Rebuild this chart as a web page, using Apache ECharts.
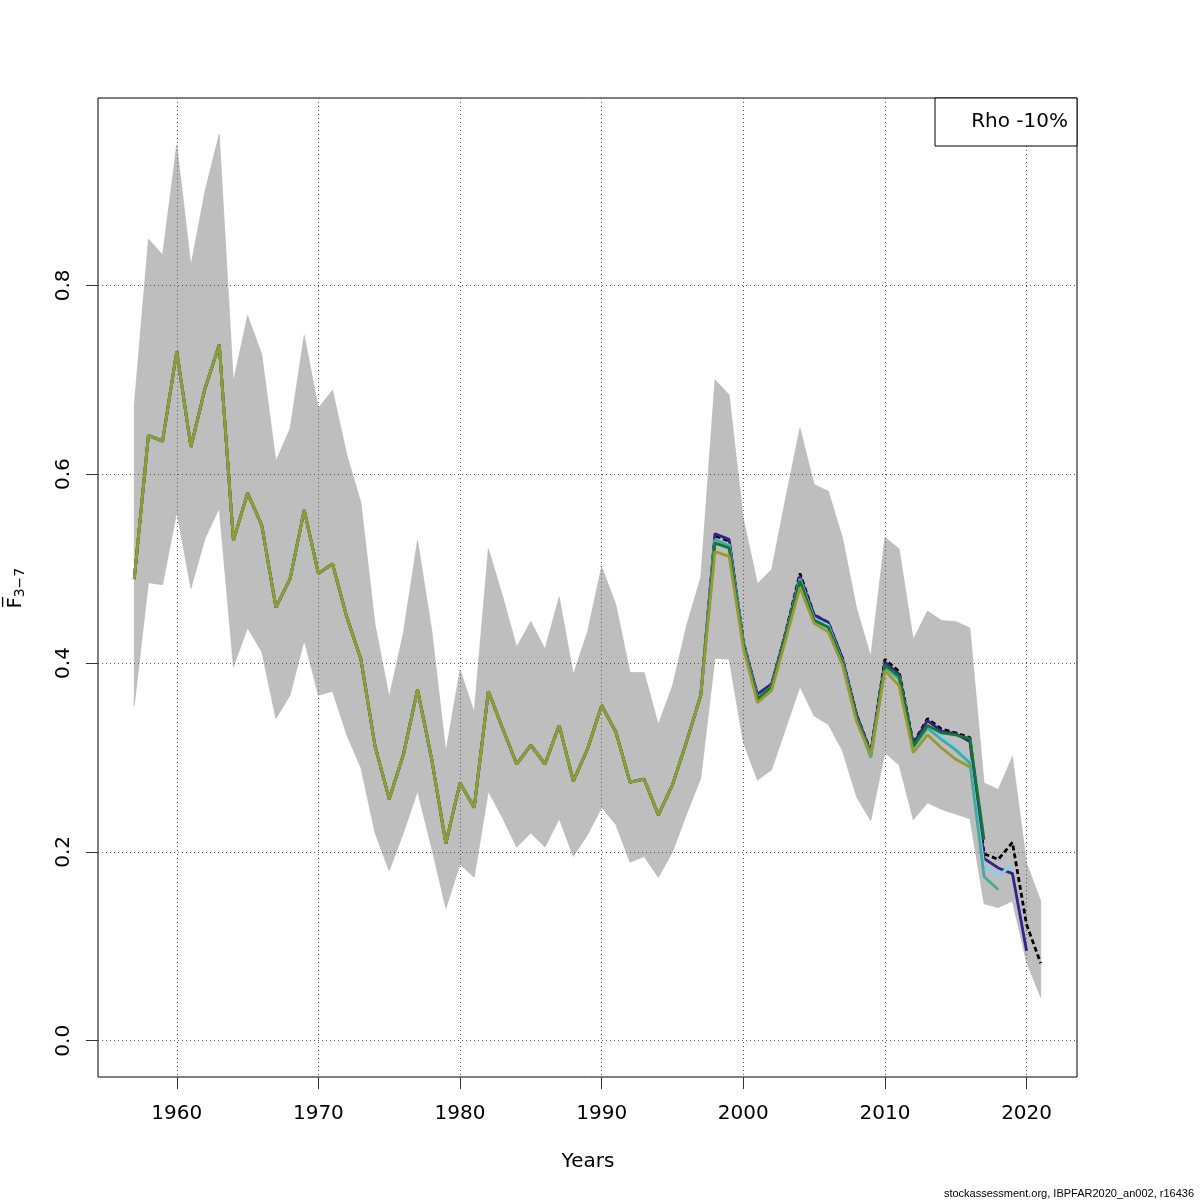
<!DOCTYPE html>
<html><head><meta charset="utf-8">
<script src="https://cdn.jsdelivr.net/npm/echarts@6/dist/echarts.min.js"></script>
<style>html,body{margin:0;padding:0;background:#fff}#c{width:1200px;height:1200px}</style>
</head><body><div id="c"></div><script>
// ---- data ----
const years = [1957,1958,1959,1960,1961,1962,1963,1964,1965,1966,1967,1968,1969,1970,1971,1972,1973,1974,1975,1976,1977,1978,1979,1980,1981,1982,1983,1984,1985,1986,1987,1988,1989,1990,1991,1992,1993,1994,1995,1996,1997,1998,1999,2000,2001,2002,2003,2004,2005,2006,2007,2008,2009,2010,2011,2012,2013,2014,2015,2016,2017,2018,2019,2020,2021];
// shared part of all fits, 1957-1997
const sharedEarly = [0.489,0.641,0.635,0.730,0.629,0.691,0.737,0.530,0.580,0.546,0.459,0.489,0.562,0.495,0.505,0.449,0.404,0.312,0.256,0.303,0.372,0.298,0.209,0.273,0.247,0.370,0.331,0.293,0.313,0.293,0.334,0.275,0.309,0.355,0.327,0.274,0.277,0.239,0.271,0.317,0.366];
// 1998 onwards, per fit
const baseTail   = [0.535,0.529,0.423,0.365,0.377,0.433,0.495,0.451,0.443,0.405,0.345,0.306,0.404,0.391,0.315,0.341,0.330,0.326,0.321,0.198,0.192,0.210,0.123,0.082];
const retro1Tail = [0.537,0.531,0.422,0.367,0.378,0.432,0.492,0.451,0.443,0.405,0.345,0.305,0.401,0.388,0.314,0.339,0.328,0.325,0.317,0.193,0.183,0.177,0.095];
const retro2Tail = [0.530,0.525,0.421,0.363,0.375,0.430,0.489,0.447,0.440,0.402,0.342,0.303,0.397,0.385,0.311,0.333,0.322,0.311,0.296,0.184,0.175,0.186];
const retro3Tail = [0.531,0.524,0.420,0.361,0.374,0.429,0.488,0.446,0.438,0.401,0.341,0.300,0.396,0.383,0.310,0.331,0.319,0.308,0.294,0.174,0.160];
const retro4Tail = [0.527,0.522,0.420,0.362,0.375,0.430,0.487,0.445,0.438,0.401,0.342,0.303,0.398,0.386,0.312,0.334,0.326,0.324,0.320,0.213];
const retro5Tail = [0.518,0.513,0.416,0.358,0.371,0.425,0.480,0.442,0.433,0.398,0.338,0.302,0.392,0.376,0.305,0.324,0.310,0.298,0.290];
const bandUpper = [0.673,0.849,0.832,0.949,0.821,0.900,0.960,0.698,0.768,0.727,0.614,0.648,0.747,0.670,0.689,0.621,0.570,0.441,0.364,0.432,0.530,0.435,0.306,0.393,0.348,0.521,0.471,0.417,0.444,0.415,0.470,0.388,0.433,0.502,0.462,0.390,0.390,0.335,0.376,0.440,0.491,0.700,0.684,0.553,0.484,0.499,0.575,0.649,0.589,0.582,0.533,0.458,0.407,0.533,0.521,0.425,0.455,0.445,0.444,0.437,0.273,0.266,0.301,0.188,0.148];
const bandLower = [0.355,0.485,0.483,0.560,0.479,0.532,0.564,0.396,0.437,0.412,0.341,0.366,0.424,0.366,0.370,0.324,0.289,0.220,0.180,0.220,0.264,0.204,0.140,0.187,0.173,0.264,0.236,0.205,0.220,0.205,0.235,0.195,0.218,0.247,0.229,0.189,0.195,0.173,0.200,0.240,0.278,0.405,0.404,0.316,0.276,0.287,0.331,0.375,0.344,0.335,0.307,0.258,0.233,0.305,0.292,0.234,0.252,0.245,0.240,0.235,0.145,0.141,0.148,0.083,0.046];
const xTicks = [1960,1970,1980,1990,2000,2010,2020];
const yTicks = [0,0.2,0.4,0.6,0.8];
const yTickLabels = ['0.0','0.2','0.4','0.6','0.8'];
const legendText = 'Rho -10%';

// ---- chart ----
const FONT = 'DejaVu Sans';
const chart = echarts.init(document.getElementById('c'));
function fit(tail, color, dashed) {
  const vals = sharedEarly.concat(tail);
  return {
    type: 'line', z: 3, silent: true, symbol: 'none', animation: false,
    data: vals.map((v, i) => [years[i], v]),
    lineStyle: { color: color, width: 2.8, type: dashed ? [5, 3] : 'solid' }
  };
}
const gridLine = { show: true, lineStyle: { color: '#555', width: 1, type: [1, 3] } };
chart.setOption({
  animation: false,
  textStyle: { fontFamily: FONT },
  grid: { left: 98, top: 98, right: 123, bottom: 123, show: true, borderColor: '#000', borderWidth: 1, backgroundColor: 'transparent' },
  xAxis: {
    type: 'value', min: 1954.44, max: 2023.56, z: 2,
    axisLine: { show: false, onZero: false },
    axisTick: { show: true, length: 12, customValues: xTicks, lineStyle: { color: '#333' } },
    axisLabel: { customValues: xTicks, fontSize: 20, color: '#000', margin: 27, fontFamily: FONT,
      formatter: v => String(Math.round(v)) },
    splitLine: gridLine
  },
  yAxis: {
    type: 'value', min: -0.0384, max: 0.9984, z: 2,
    axisLine: { show: false, onZero: false },
    axisTick: { show: true, length: 12, customValues: yTicks, lineStyle: { color: '#333' } },
    axisLabel: { customValues: yTicks, rotate: 90, fontSize: 20, color: '#000', margin: 24, fontFamily: FONT,
      formatter: v => yTickLabels[yTicks.findIndex(t => Math.abs(t - v) < 1e-9)] },
    splitLine: gridLine
  },
  series: [
    {
      type: 'custom', z: 1, silent: true,
      data: years.map((y, i) => [y, bandLower[i], bandUpper[i]]),
      encode: { x: 0, y: [1, 2] },
      renderItem: function (params, api) {
        if (params.dataIndex !== 0) return null;
        const pts = [];
        for (let i = 0; i < years.length; i++) pts.push(api.coord([years[i], bandUpper[i]]));
        for (let i = years.length - 1; i >= 0; i--) pts.push(api.coord([years[i], bandLower[i]]));
        return { type: 'polygon', shape: { points: pts }, style: { fill: '#BEBEBE', stroke: '#B4B4B4', lineWidth: 0.6 } };
      }
    },
    fit(baseTail, '#000000', true),
    fit(retro1Tail, '#332288', false),
    fit(retro2Tail, '#88CCEE', false),
    fit(retro3Tail, '#44AA99', false),
    fit(retro4Tail, '#117733', false),
    fit(retro5Tail, '#999933', false)
  ],
  graphic: [
    { type: 'rect', z: 10, shape: { x: 935, y: 98, width: 142, height: 48 }, style: { fill: '#fff', stroke: '#000', lineWidth: 1 } },
    { type: 'text', z: 11, x: 1068, y: 122, style: { text: legendText, font: '20px "DejaVu Sans"', fill: '#000', align: 'right', verticalAlign: 'middle' } },
    { type: 'text', z: 11, x: 588, y: 1162, style: { text: 'Years', font: '20px "DejaVu Sans"', fill: '#000', align: 'center', verticalAlign: 'middle' } },
    { type: 'text', z: 11, x: 16, y: 588, rotation: Math.PI / 2,
      style: { text: '{f|F\u0305}{s|3\u22127}', align: 'center', verticalAlign: 'middle', fill: '#000',
        rich: { f: { fontSize: 19, fontFamily: FONT, fill: '#000' }, s: { fontSize: 14, fontFamily: FONT, fill: '#000', padding: [8, 0, 0, 0] } } } },
    { type: 'text', z: 11, x: 1194, y: 1194, style: { text: 'stockassessment.org, IBPFAR2020_an002, r16436', font: '11px "Liberation Sans"', fill: '#000', align: 'right', verticalAlign: 'middle' } }
  ]
});
</script></body></html>
